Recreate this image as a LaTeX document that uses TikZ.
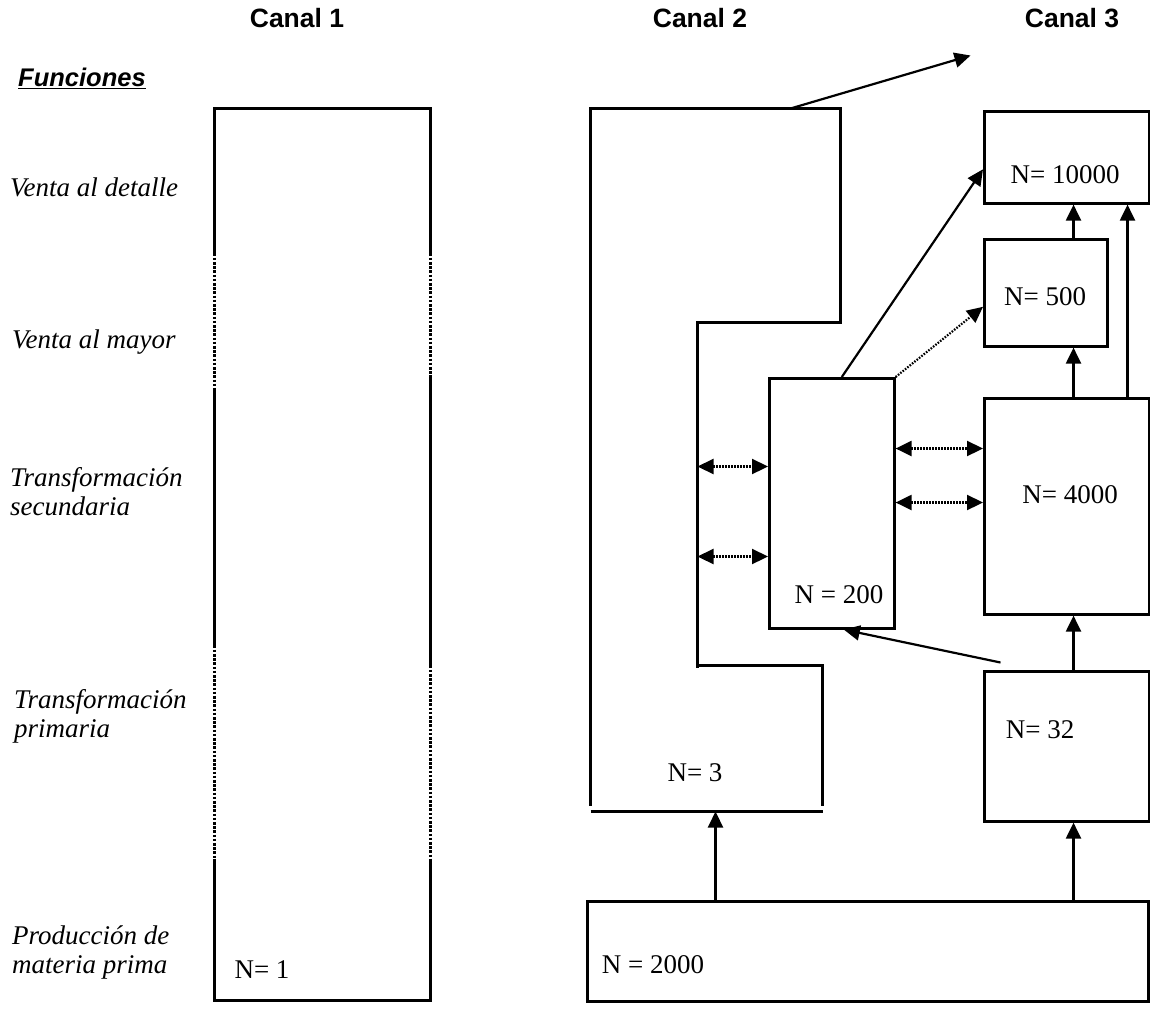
\documentclass[tikz,border=0pt]{standalone}
\usepackage{fontspec}
\setmainfont{Liberation Serif}
\setsansfont{Liberation Sans}
\usetikzlibrary{arrows.meta,positioning}
\tikzset{
    % Unit box style - plain black frame
    unitbox/.style={
        rectangle,
        draw=black,
        line width=2.6pt,
        inner sep=0pt,
        anchor=north west
    },
    % Channel outline style
    chanline/.style={
        line width=2.8pt,
        draw=black
    },
    % Dotted channel outline segment
    chandots/.style={
        line width=2.8pt,
        draw=black,
        dash pattern=on 2.6pt off 1.6pt
    },
    % Function labels - italic serif
    funcion/.style={
        font=\fontsize{27}{29}\selectfont\itshape,
        align=left,
        anchor=west,
        inner sep=0pt
    },
    % Channel headers - bold sans
    canal/.style={
        font=\fontsize{26.5}{29}\selectfont\sffamily\bfseries,
        inner sep=0pt
    },
    % Count labels
    count/.style={
        font=\fontsize{27}{29}\selectfont,
        inner sep=0pt
    },
    % Arrow style
    arrow/.style={
        -{Triangle[length=16pt,width=15pt]},
        line width=2.2pt,
        draw=black
    },
    % Dotted two-way arrow
    dotarrow/.style={
        {Triangle[length=16pt,width=15pt]}-{Triangle[length=16pt,width=15pt]},
        line width=2.2pt,
        draw=black,
        dash pattern=on 1.6pt off 1.4pt
    },
    % Dotted one-way arrow
    dotonearrow/.style={
        -{Triangle[length=16pt,width=15pt]},
        line width=2.2pt,
        draw=black,
        dash pattern=on 1.6pt off 1.4pt
    }
}

\begin{document}
\begin{tikzpicture}[x=1pt, y=-1pt]
    \useasboundingbox (0,0) rectangle (1150,1009);

    % ========== HEADERS ==========
    \node[canal] (hcanal1) at (297,18) {Canal 1};
    \node[canal] (hcanal2) at (700,18) {Canal 2};
    \node[canal] (hcanal3) at (1072,18) {Canal 3};
    \node[canal, anchor=west, font=\fontsize{25.5}{28}\selectfont\sffamily\bfseries] (hfunc) at (18,78) {\underline{\textit{Funciones}}};

    % ========== FUNCTION LABELS ==========
    \node[funcion] (fdetalle) at (10,187) {Venta al detalle};
    \node[funcion] (fmayor) at (12,342) {Venta al mayor};
    \node[funcion] (fsecund) at (10,492) {Transformación\\secundaria};
    \node[funcion] (fprim) at (14,716) {Transformación\\primaria};
    \node[funcion] (fprod) at (12,952) {Producción de\\materia prima};

    % half-pixel offset keeps the outlines crisp
    \begin{scope}[shift={(0.5,0.5)}]
    % ========== CANAL 1 ==========
    \draw[chanline] (214,108) -- (430,108);
    \draw[chanline] (214,1000) -- (430,1000);
    % left side
    \draw[chanline] (214,106.6) -- (214,253);
    \draw[chandots] (214,253) -- (214,390);
    \draw[chanline] (214,390) -- (214,645);
    \draw[chandots] (214,645) -- (214,858);
    \draw[chanline] (214,858) -- (214,1001.4);
    % right side
    \draw[chanline] (430,106.6) -- (430,253);
    \draw[chandots] (430,253) -- (430,375);
    \draw[chanline] (430,375) -- (430,665);
    \draw[chandots] (430,665) -- (430,859);
    \draw[chanline] (430,859) -- (430,1001.4);

    % ========== CANAL 2 ==========
    \draw[chanline] (590,805) -- (590,108) -- (840,108) -- (840,322) -- (697,322)
        -- (697,667) (697,665) -- (822,665) -- (822,805);
    \draw[chanline] (590,811) -- (822,811);
    \coordinate (c2top) at (790,108);
    \coordinate (c2out) at (970,55);
    \coordinate (c2bot) at (715,811);
    \coordinate (c2wall) at (697,0);

    % helper columns and rows
    \coordinate (spine) at (1073,0);
    \coordinate (rspine) at (1127,0);
    \coordinate (rowA) at (0,448);
    \coordinate (rowB) at (0,502);
    \coordinate (rowC) at (0,466);
    \coordinate (rowD) at (0,556);
    \coordinate (n32tail) at (1000,662);
    \end{scope}

    \node[count] (n1) at (262,970) {N= 1};
    \node[count] (n3) at (695,773) {N= 3};

    % ========== CANAL 3 BOXES ==========
    \node[unitbox, minimum width=165pt, minimum height=92pt] (n10000) at (983,110) {};
    \node[unitbox, minimum width=123pt, minimum height=107pt] (n500) at (983,238) {};
    \node[unitbox, minimum width=165pt, minimum height=216pt] (n4000) at (983,397) {};
    \node[unitbox, minimum width=125pt, minimum height=250pt] (n200) at (768,377) {};
    \node[unitbox, minimum width=165pt, minimum height=150pt] (n32) at (983,670) {};
    \node[unitbox, minimum width=561pt, minimum height=100pt] (n2000) at (586,900) {};

    \node[count] (t10000) at (1065,175) {N= 10000};
    \node[count] (t500) at (1045,297) {N= 500};
    \node[count] (t4000) at (1070,495) {N= 4000};
    \node[count] (t200) at (839,595) {N = 200};
    \node[count] (t32) at (1040,730) {N= 32};
    \node[count] (t2000) at (653,965) {N = 2000};

    % ========== CONNECTIONS ==========
    \draw[arrow] (c2top) -- (c2out);
    \draw[arrow] (n2000.north -| c2bot) -- (c2bot);
    \draw[arrow] (n2000.north -| spine) -- (n32.south -| spine);
    \draw[arrow] (n32.north -| spine) -- (n4000.south -| spine);
    \draw[arrow] (n4000.north -| spine) -- (n500.south -| spine);
    \draw[arrow] (n500.north -| spine) -- (n10000.south -| spine);
    \draw[arrow] (n4000.north -| rspine) -- (n10000.south -| rspine);
    \draw[arrow] (n32tail) -- ([xshift=12pt]n200.south);
    \draw[arrow] ([xshift=10pt]n200.north) -- ([yshift=-12pt]n10000.west);
    \draw[dotonearrow] (n200.north east) -- ([yshift=-14pt]n500.west);

    % two-way exchanges
    \draw[dotarrow] (n200.east |- rowA) -- (n4000.west |- rowA);
    \draw[dotarrow] (n200.east |- rowB) -- (n4000.west |- rowB);
    \draw[dotarrow] (c2wall |- rowC) -- (n200.west |- rowC);
    \draw[dotarrow] (c2wall |- rowD) -- (n200.west |- rowD);

\end{tikzpicture}
\end{document}
